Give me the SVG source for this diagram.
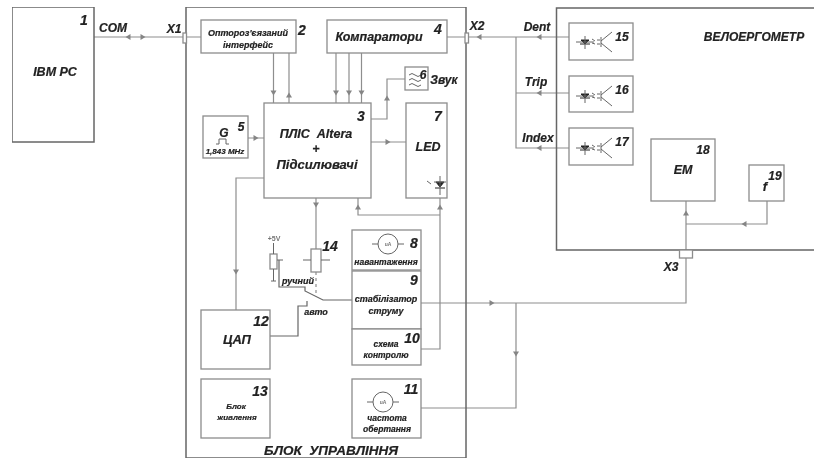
<svg xmlns="http://www.w3.org/2000/svg" width="814" height="461" viewBox="0 0 814 461">
<style>
text{font-family:"Liberation Sans",Arial,sans-serif;font-weight:bold;font-style:italic;fill:#222;stroke:#222;stroke-width:.2;text-anchor:middle;white-space:pre}
.b{fill:#fff;stroke:#8c8c8c;stroke-width:1.3}
.o{fill:none;stroke:#666;stroke-width:1.5}
.c{fill:none;stroke:#8e8e8e;stroke-width:1.2}
.d{fill:none;stroke:#666;stroke-width:1.2}
.a{fill:#858585;stroke:none}
.s{fill:none;stroke:#666;stroke-width:1}
.k{fill:#222;stroke:#222;stroke-width:1}
.n{font-size:14px}.m{font-size:12px}.t{font-size:9px}.u{font-size:5px;font-style:normal;fill:#777;stroke:none}
</style>
<defs>
<filter id="soft" x="0" y="0" width="100%" height="100%"><feGaussianBlur stdDeviation="0.4"/></filter>
<path id="ar" class="a" d="M-2.500-3L2.500 0L-2.500 3Z"/>
<g id="opto"><path class="k" d="M-4-2H4L0 2ZM-5 2H5"/><path class="s" d="M-9 0H9M0-6V7M7-3L10-1M7 1L10 2M12-2H15M12 2H15M16-5V5M16-1L27-10M16 1L27 10"/></g>
<g id="meter"><circle class="s" cx="0" cy="0" r="10"/><path class="s" d="M-16 0H-10M10 0H16"/><text class="u" x="0" y="2">uA</text></g>
</defs>
<g filter="url(#soft)">
<g id="connectors">
<path class="c" d="M94 37H201"/>
<path class="c" d="M447 37H569M516 37V148H569M516 93H569"/>
<path class="c" d="M273.500 53V103M289 53V103M336 53V103M349 53V103M361.500 53V103"/>
<path class="c" d="M371 119H387V79H405M371 142H406M248 138H264"/>
<path class="c" d="M316 198V249M358 198V215H440V198M440 215V349H421"/>
<path class="c" d="M264 178H236V310"/>
<path class="d" d="M270 336H298V306H307V301"/>
<path class="d" d="M279 260V287H305V291L323 300H352"/>
<path class="c" stroke-dasharray="3 3" d="M316 272V294"/>
<path class="c" d="M421 303H686V201M516 303V408H421M686 224H767V201"/>
<use href="#ar" transform="translate(128 37) rotate(180)"/><use href="#ar" transform="translate(143 37)"/>
<use href="#ar" transform="translate(479 37) rotate(180)"/><use href="#ar" transform="translate(539 37) rotate(180)"/>
<use href="#ar" transform="translate(539 93) rotate(180)"/><use href="#ar" transform="translate(539 148) rotate(180)"/>
<use href="#ar" transform="translate(273.500 93) rotate(90)"/><use href="#ar" transform="translate(289 95) rotate(-90)"/>
<use href="#ar" transform="translate(336 93) rotate(90)"/><use href="#ar" transform="translate(349 93) rotate(90)"/><use href="#ar" transform="translate(361.500 93) rotate(90)"/>
<use href="#ar" transform="translate(387 98) rotate(-90)"/><use href="#ar" transform="translate(388 142)"/><use href="#ar" transform="translate(256 138)"/>
<use href="#ar" transform="translate(316 205) rotate(90)"/><use href="#ar" transform="translate(358 207) rotate(-90)"/><use href="#ar" transform="translate(440 207) rotate(-90)"/>
<use href="#ar" transform="translate(236 272) rotate(90)"/>
<use href="#ar" transform="translate(492 303)"/><use href="#ar" transform="translate(516 354) rotate(90)"/>
<use href="#ar" transform="translate(686 213) rotate(-90)"/><use href="#ar" transform="translate(744 224) rotate(180)"/>
</g>
<g id="n-main"><rect class="o" x="186" y="7" width="280" height="451" fill="none"/><text x="331" y="455" font-size="13.500">БЛОК  УПРАВЛІННЯ</text></g>
<g id="n-velo"><path class="o" d="M814 8H556.500V250H814"/><text x="754" y="41" font-size="12">ВЕЛОЕРГОМЕТР</text></g>
<g id="n1"><rect class="o" x="12" y="7" width="82" height="135"/><text class="n" x="84" y="25">1</text><text x="55" y="76" font-size="12.500">IBM PC</text></g>
<g id="x-labels">
<rect class="b" x="183" y="33" width="3.500" height="10"/><rect class="b" x="465" y="33" width="3.500" height="10"/><rect class="b" x="679.500" y="250" width="13" height="8"/>
<text x="113" y="32" font-size="12">COM</text><text x="174" y="33" font-size="12">X1</text><text x="477" y="30" font-size="12">X2</text><text x="671" y="271" font-size="12">X3</text>
<text x="537" y="31" font-size="12">Dent</text><text x="536" y="86" font-size="12">Trip</text><text x="538" y="142" font-size="12">Index</text>
</g>
<g id="n2"><rect class="b" x="201" y="20" width="95" height="33"/><text class="t" x="248" y="36">Оптороз'єязаний</text><text class="t" x="248" y="48">інтерфейс</text><text class="n" x="302" y="35">2</text></g>
<g id="n4"><rect class="b" x="327" y="20" width="120" height="33"/><text x="379" y="41" font-size="12.500">Компаратори</text><text class="n" x="438" y="34">4</text></g>
<g id="n3"><rect class="b" x="264" y="103" width="107" height="95"/><text class="n" x="361" y="121">3</text><text x="316" y="138" font-size="12.500">ПЛІС  Altera</text><text x="316" y="153" font-size="12.500">+</text><text x="317" y="169" font-size="13">Підсилювачі</text></g>
<g id="n5"><rect class="b" x="203" y="116" width="45" height="42"/><text x="224" y="137" font-size="12">G</text><path class="s" d="M216 144H219V139H226V144H229"/><text x="225" y="154" font-size="8">1,843 MHz</text><text class="m" x="241" y="131">5</text></g>
<g id="n6"><rect class="b" x="405" y="67" width="23" height="23"/><path class="s" d="M409 75q3-3 6 0t6 0M409 80q3-3 6 0t6 0M409 85q3-3 6 0t6 0"/><text class="m" x="423" y="79">6</text><text x="444" y="84" font-size="12">Звук</text></g>
<g id="n7"><rect class="b" x="406" y="103" width="41" height="95"/><text class="n" x="438" y="121">7</text><text x="428" y="151" font-size="12.500">LED</text><path class="k" d="M436 182H444L440 187ZM435 188H445"/><path class="s" d="M434 182H446M440 176V195M427 181L431 184"/></g>
<g id="n8"><rect class="b" x="352" y="230" width="69" height="40"/><use href="#meter" transform="translate(388 244)"/><text class="n" x="414" y="248">8</text><text x="386" y="265" font-size="8.500">навантаження</text></g>
<g id="n9"><rect class="b" x="352" y="271" width="69" height="58"/><text class="n" x="414" y="285">9</text><text x="386" y="302" font-size="9">стабілізатор</text><text x="386" y="314" font-size="9">струму</text></g>
<g id="n10"><rect class="b" x="352" y="329" width="69" height="36"/><text class="n" x="412" y="343">10</text><text x="386" y="347" font-size="8.500">схема</text><text x="386" y="358" font-size="8.500">контролю</text></g>
<g id="n11"><rect class="b" x="352" y="379" width="69" height="59"/><text class="n" x="411" y="394">11</text><use href="#meter" transform="translate(383 402)"/><text x="387" y="421" font-size="8.500">частота</text><text x="387" y="432" font-size="8.500">обертання</text></g>
<g id="n12"><rect class="b" x="201" y="310" width="69" height="59"/><text class="n" x="261" y="326">12</text><text x="237" y="344" font-size="13">ЦАП</text></g>
<g id="n13"><rect class="b" x="201" y="379" width="69" height="59"/><text class="n" x="260" y="396">13</text><text x="236" y="409" font-size="8">Блок</text><text x="237" y="420" font-size="8">живлення</text></g>
<g id="n14"><rect class="b" x="311" y="249" width="10" height="23"/><path class="s" d="M303 260H311M321 260H330"/><text class="n" x="330" y="251">14</text></g>
<g id="pot"><rect class="b" x="270" y="254" width="7" height="15"/><path class="s" d="M273.500 243V254M273.500 269V281M271 281H276M277 260H283"/><text class="u" x="274" y="241" style="font-size:7px">+5V</text><text class="t" x="298" y="284">ручний</text><text class="t" x="316" y="315">авто</text></g>
<g id="n15"><rect class="b" x="569" y="23" width="64" height="37"/><use href="#opto" transform="translate(585 42)"/><text class="m" x="622" y="41">15</text></g>
<g id="n16"><rect class="b" x="569" y="76" width="64" height="36"/><use href="#opto" transform="translate(585 96)"/><text class="m" x="622" y="94">16</text></g>
<g id="n17"><rect class="b" x="569" y="128" width="64" height="37"/><use href="#opto" transform="translate(585 148)"/><text class="m" x="622" y="146">17</text></g>
<g id="n18"><rect class="b" x="651" y="139" width="64" height="62"/><text class="m" x="703" y="154">18</text><text x="683" y="174" font-size="12.500">ЕМ</text></g>
<g id="n19"><rect class="b" x="749" y="165" width="35" height="36"/><text class="m" x="775" y="180">19</text><text x="765" y="191" font-size="13">f</text></g>
</g>
</svg>
